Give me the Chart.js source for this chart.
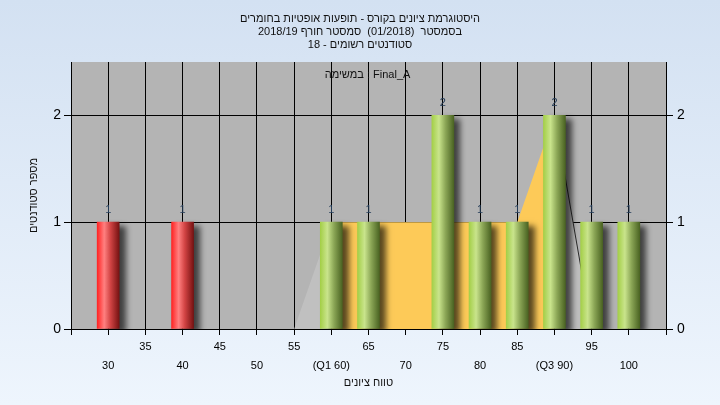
<!DOCTYPE html>
<html>
<head>
<meta charset="utf-8">
<script src="https://cdn.jsdelivr.net/npm/chart.js@4.4.1/dist/chart.umd.min.js"></script>
<style>
    html, body { margin: 0; padding: 0; }
    body {
        width: 720px;
        height: 405px;
        overflow: hidden;
        background: linear-gradient(#d3e1f2, #eef5fd);
    }
    #histogram { display: block; }
</style>
</head>
<body>
<canvas id="histogram" width="720" height="405"></canvas>
<script>
// נתוני ההיסטוגרמה
const gradeBins = [30, 40, 60, 65, 75, 80, 85, 90, 95, 100];
const studentCounts = [1, 1, 1, 1, 2, 1, 1, 2, 1, 1];
const failLimit = 55;

// עקומת הרבעונים (שטח צהוב בין Q1 ל-Q3)
const curveGrades = [55, 60, 65, 70, 75, 80, 85, 90, 95];
const curveValues = [0, 1, 1, 1, 1, 1, 1, 2, 0];
const q1Grade = 60;
const q3Grade = 90;

// תוויות
const xSpecialLabels = { 60: '(Q1 60)', 90: '(Q3 90)' };
const titleLines = [
    'היסטוגרמת ציונים בקורס - תופעות אופטיות בחומרים',
    'בסמסטר  (01/2018)  סמסטר חורף 2018/19',
    'סטודנטים רשומים - 18'
];
const taskLabel = 'במשימה : Final_A';
const xAxisTitle = 'טווח ציונים';
const yAxisTitle = 'מספר סטודנטים';

const rtl = s => '\u202B' + s + '\u202C';
const FONT = "'Liberation Sans', Arial, sans-serif";
Chart.defaults.font.family = FONT;
Chart.defaults.color = '#000';

// בניית נקודות העקומה
function curvePart(from, to) {
    const pts = [];
    curveGrades.forEach((g, i) => {
        if (g >= from && g <= to) pts.push({ x: g, y: curveValues[i] });
    });
    return pts;
}

// גרדיאנט "גלילי" לעמודות
function barGradient(context) {
    const chart = context.chart;
    const xScale = chart.scales.x;
    if (!chart.chartArea || !xScale || !context.raw) return '#a6d04e';
    const px = xScale.getPixelForValue(context.raw.x);
    const g = chart.ctx.createLinearGradient(px - 11, 0, px + 11, 0);
    if (context.raw.x < failLimit) {
        g.addColorStop(0, '#ff2424');
        g.addColorStop(0.32, '#ff8080');
        g.addColorStop(0.6, '#d24444');
        g.addColorStop(1, '#761212');
    } else {
        g.addColorStop(0, '#a4cf48');
        g.addColorStop(0.32, '#c9e48c');
        g.addColorStop(0.62, '#8ba656');
        g.addColorStop(1, '#4a6322');
    }
    return g;
}

// רקע אפור לאזור השרטוט
const plotBackground = {
    id: 'plotBackground',
    beforeDraw(chart) {
        const { ctx, chartArea: a } = chart;
        ctx.save();
        ctx.fillStyle = '#b4b4b4';
        ctx.fillRect(a.left, a.top, a.right - a.left, a.bottom - a.top);
        ctx.restore();
    }
};

// צל לעמודות
const barShadow = {
    id: 'barShadow',
    beforeDatasetDraw(chart, args) {
        if (chart.data.datasets[args.index].type !== 'bar') return;
        const ctx = chart.ctx;
        ctx.save();
        ctx.shadowColor = 'rgba(0, 0, 0, 0.65)';
        ctx.shadowBlur = 6;
        ctx.shadowOffsetX = 6;
        ctx.shadowOffsetY = 4;
    },
    afterDatasetDraw(chart, args) {
        if (chart.data.datasets[args.index].type !== 'bar') return;
        chart.ctx.restore();
    }
};

// ערכים מעל העמודות וכותרת המשימה
const barLabels = {
    id: 'barLabels',
    afterDraw(chart) {
        const ctx = chart.ctx;
        const meta = chart.getDatasetMeta(0);
        ctx.save();
        ctx.font = '11px ' + FONT;
        ctx.fillStyle = '#243c58';
        ctx.textAlign = 'center';
        ctx.textBaseline = 'middle';
        meta.data.forEach((bar, i) => {
            ctx.fillText(String(studentCounts[i]), bar.x, bar.y - 12);
        });
        const a = chart.chartArea;
        ctx.font = '11px ' + FONT;
        ctx.fillStyle = '#111';
        ctx.fillText(taskLabel, (a.left + a.right) / 2 - 1, a.top + 13);
        ctx.restore();
    }
};

const yTicks = {
    stepSize: 1,
    includeBounds: false,
    font: { size: 14 },
    color: '#000'
};

new Chart(document.getElementById('histogram'), {
    type: 'bar',
    data: {
        datasets: [
            {
                type: 'bar',
                data: gradeBins.map((g, i) => ({ x: g, y: studentCounts[i] })),
                backgroundColor: barGradient,
                borderWidth: 0,
                barThickness: 22,
                order: 0
            },
            {
                type: 'line',
                data: curvePart(0, q1Grade),
                fill: 'origin',
                backgroundColor: '#c0c0c0',
                borderWidth: 0,
                pointRadius: 0,
                order: 1
            },
            {
                type: 'line',
                data: curvePart(q1Grade, q3Grade),
                fill: 'origin',
                backgroundColor: '#fdca58',
                borderWidth: 0,
                pointRadius: 0,
                order: 1
            },
            {
                type: 'line',
                data: curvePart(q3Grade, 200),
                fill: 'origin',
                backgroundColor: '#bfbfbf',
                borderColor: '#2a2a2a',
                borderWidth: 1,
                pointRadius: 0,
                order: 1
            }
        ]
    },
    options: {
        responsive: false,
        animation: false,
        layout: { padding: 0 },
        plugins: {
            legend: { display: false },
            tooltip: { enabled: false },
            title: {
                display: true,
                text: titleLines.map(rtl),
                color: '#111',
                font: { size: 11, weight: 'normal', lineHeight: 13 / 11 },
                padding: { top: 12.5, bottom: 10.5 }
            }
        },
        scales: {
            x: {
                type: 'linear',
                min: 25,
                max: 105,
                offset: false,
                grid: { offset: false, color: '#000', tickLength: 6 },
                border: { color: '#000' },
                ticks: {
                    stepSize: 5,
                    includeBounds: false,
                    autoSkip: false,
                    maxRotation: 0,
                    padding: 2,
                    color: '#000',
                    font: { size: 11, lineHeight: 19 / 11 },
                    callback: function(value) {
                        if (value <= 25 || value >= 105) return '';
                        const label = xSpecialLabels[value] || String(value);
                        return value % 10 === 0 ? ['', label] : label;
                    }
                },
                title: {
                    display: true,
                    text: rtl(xAxisTitle),
                    color: '#111',
                    font: { size: 11 },
                    padding: { top: 0, bottom: 15 }
                },
                afterFit: function(scale) { scale.height = 76; }
            },
            y: {
                type: 'linear',
                position: 'left',
                min: 0,
                max: 2.5,
                grid: { color: '#000', tickLength: 7 },
                border: { color: '#000' },
                ticks: Object.assign({ padding: 3 }, yTicks),
                title: {
                    display: true,
                    text: rtl(yAxisTitle),
                    color: '#111',
                    font: { size: 11 },
                    padding: { top: 27, bottom: 0 }
                },
                afterFit: function(scale) { scale.width = 71; }
            },
            y2: {
                type: 'linear',
                position: 'right',
                min: 0,
                max: 2.5,
                grid: { drawOnChartArea: false, color: '#000', tickLength: 7 },
                border: { color: '#000' },
                ticks: Object.assign({ padding: 4 }, yTicks),
                afterFit: function(scale) { scale.width = 54; }
            }
        }
    },
    plugins: [plotBackground, barShadow, barLabels]
});
</script>
</body>
</html>
